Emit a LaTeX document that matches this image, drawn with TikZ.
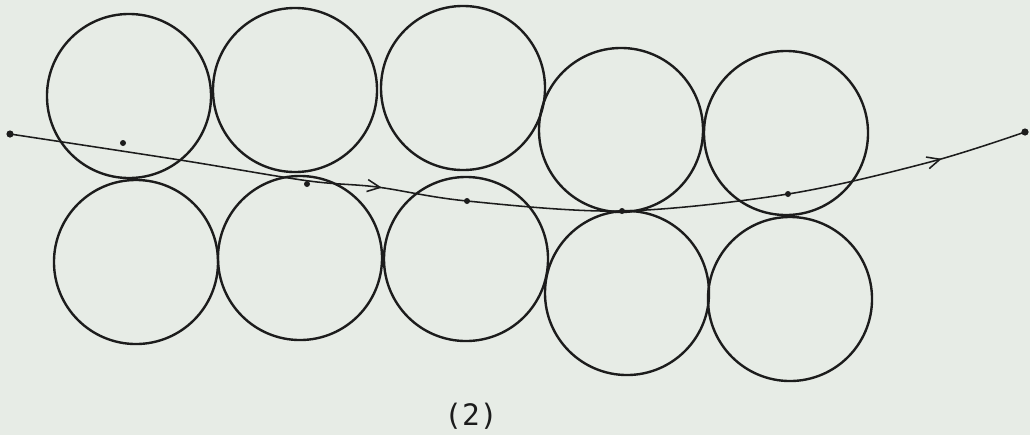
\documentclass[tikz,border=0pt]{standalone}
\usepackage{fontspec}
\newfontfamily\typefont{DejaVu Sans Mono}
\usetikzlibrary{arrows.meta,decorations.markings}
\definecolor{paper}{RGB}{231,236,230}
\definecolor{ink}{RGB}{28,28,28}

\begin{document}
\begin{tikzpicture}[
  x=0.025cm, y=-0.025cm,
  ball/.style={draw=ink, circle, line width=1.7pt, inner sep=0pt,
               minimum size=4.1cm},
  spot/.style={fill=ink, circle, inner sep=0pt, minimum size=1.5mm},
  route/.style={draw=ink, line width=1.1pt,
               postaction={decorate},
               decoration={markings,
                 mark=at position 0.365 with {\arrow[line width=1.1pt]{Straight Barb[length=3.2mm,width=3mm]}},
                 mark=at position 0.915 with {\arrow[line width=1.1pt]{Straight Barb[length=3.2mm,width=3mm]}}}}
]

%% Paper and frame
\fill[paper] (0,0) rectangle (1030,435);
\useasboundingbox (0,0) rectangle (1030,435);

%% Row 1: upper circles
\node[ball] (t1) at (129,96)  {};
\node[ball] (t2) at (295,90)  {};
\node[ball] (t3) at (463,88)  {};
\node[ball] (t4) at (621,130) {};
\node[ball] (t5) at (786,133) {};

%% Row 2: lower circles
\node[ball] (b1) at (136,262) {};
\node[ball] (b2) at (300,258) {};
\node[ball] (b3) at (466,259) {};
\node[ball] (b4) at (627,293) {};
\node[ball] (b5) at (790,299) {};

%% Points along the path
\node[spot, minimum size=1.8mm] (p0) at (10,134) {};
\node[spot] (p1) at (123,143) {};
\node[spot] (p2) at (307,184) {};
\node[spot] (p3) at (467,201) {};
\node[spot] (p4) at (622,211) {};
\node[spot] (p5) at (788,194) {};
\node[spot, minimum size=1.8mm] (p6) at (1025,132) {};

%% The path through the packing
\draw[route] plot[smooth, tension=0.55] coordinates
  {(p0.center) (180,160) (p2.north) (377,187) (p3.center) (p4.center)
   (p5.center) (930,162) (p6.center)};

%% Caption
\node[font=\typefont\fontsize{21}{24}\selectfont, text=ink] (cap) at (471,416) {(2)};

\end{tikzpicture}
\end{document}
